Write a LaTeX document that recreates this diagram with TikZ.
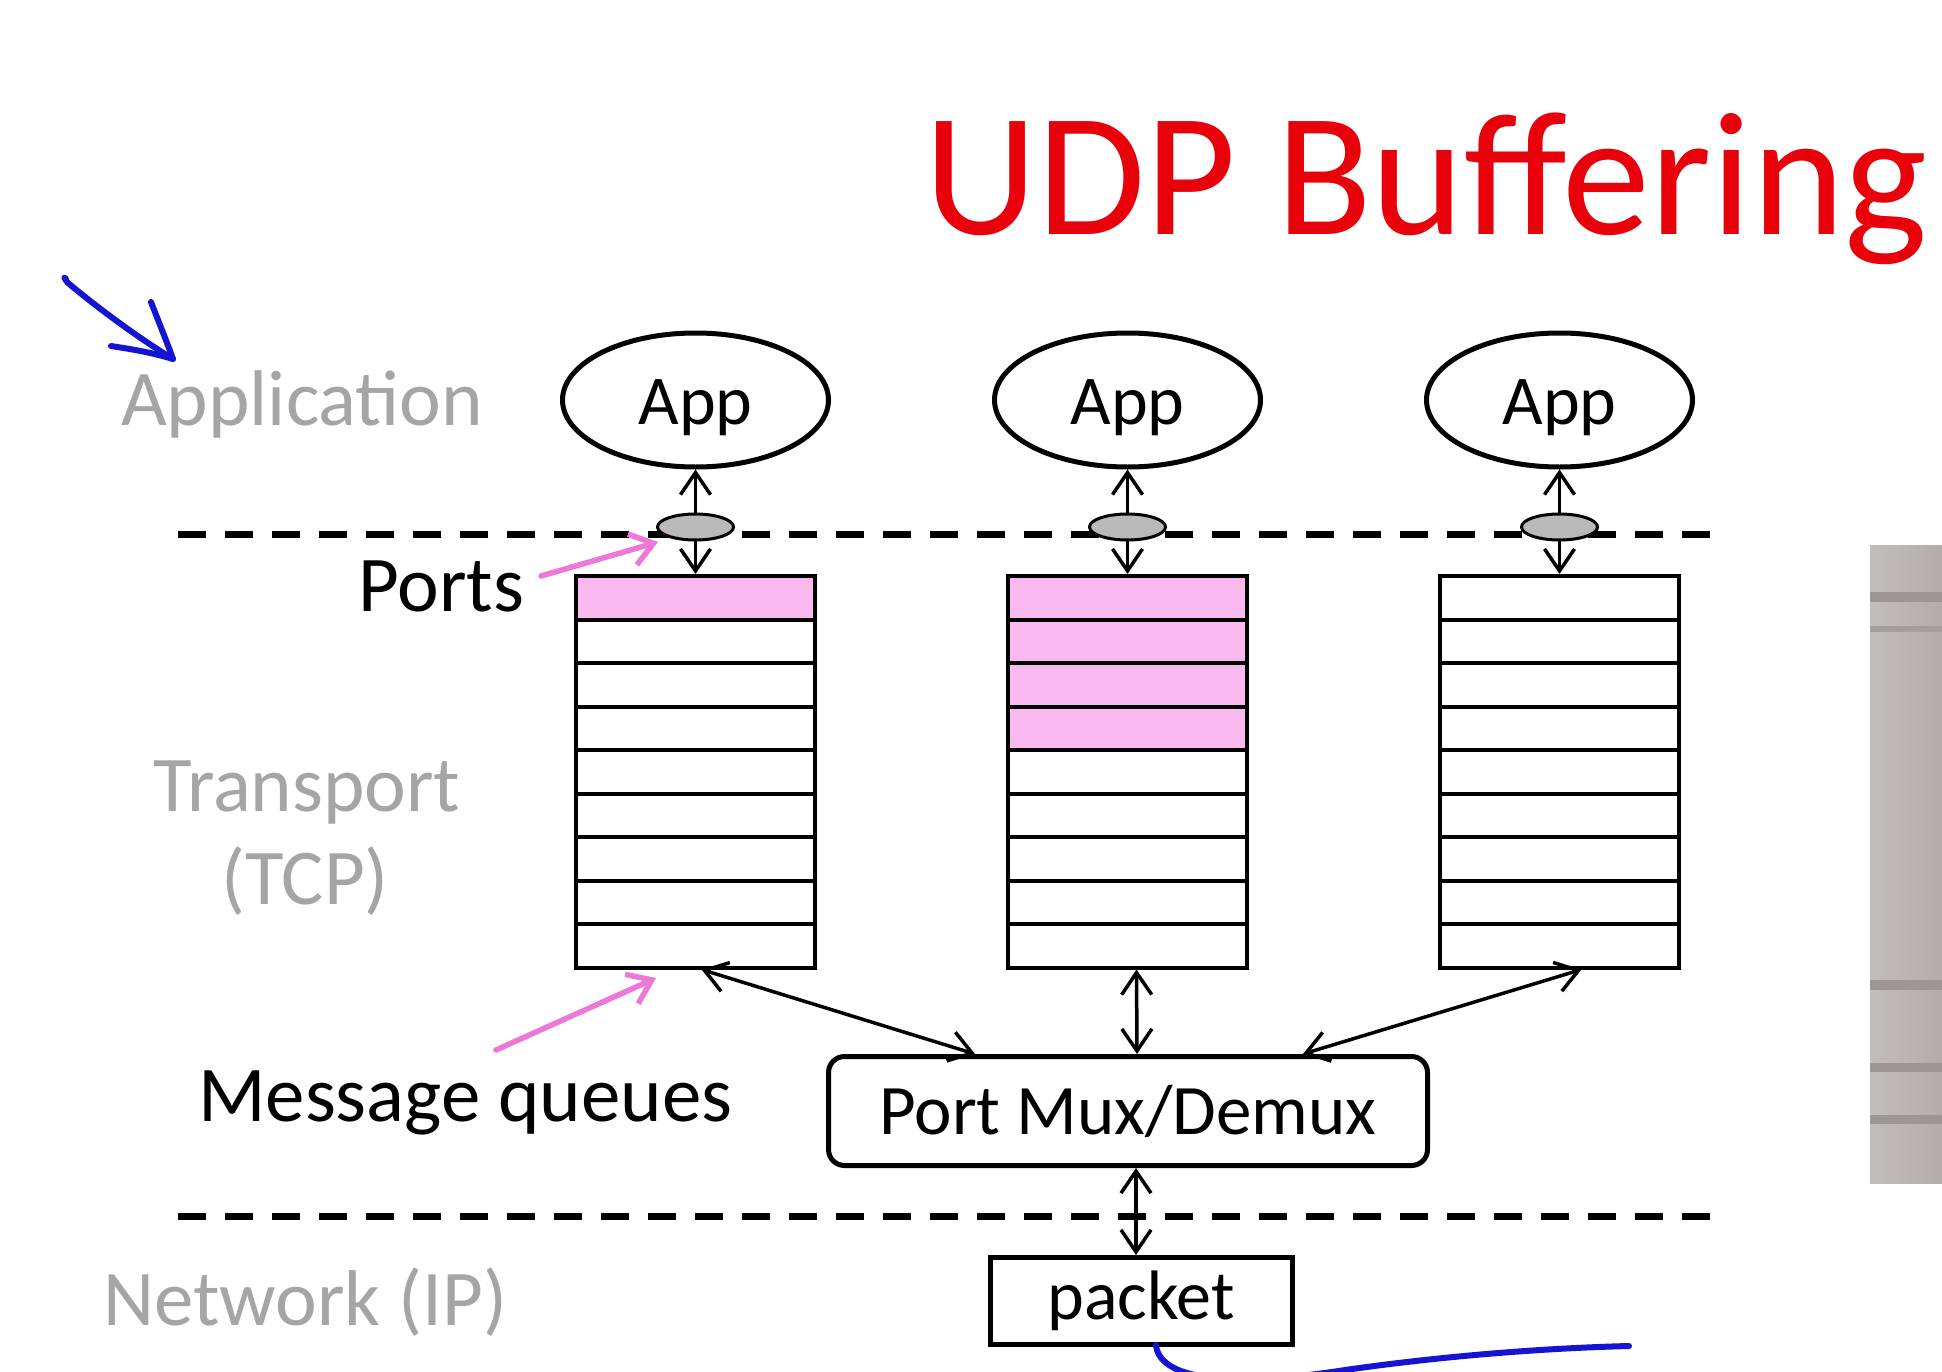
\documentclass[tikz,border=0pt]{standalone}
\usepackage{fontspec}
\setmainfont{Carlito}
\usetikzlibrary{arrows.meta,shapes.geometric,calc}
\definecolor{titlered}{RGB}{232,0,10}
\definecolor{labelgray}{RGB}{165,165,165}
\definecolor{pinkq}{RGB}{250,185,238}
\definecolor{pinkarr}{RGB}{238,120,215}
\definecolor{inkblue}{RGB}{20,20,210}
\definecolor{portgray}{RGB}{185,185,185}
\definecolor{panelgray}{RGB}{180,172,172}
\definecolor{paneldark}{RGB}{140,132,132}
\newcommand{\apptext}{\raisebox{-8pt}[\height][\depth]{App}}
\begin{document}
\begin{tikzpicture}[x=1pt,y=-1pt,
  graylbl/.style={font=\fontsize{79}{90}\selectfont, text=labelgray, inner sep=0pt},
  blklbl/.style={font=\fontsize{79}{90}\selectfont, text=black, inner sep=0pt},
  appnode/.style={ellipse, draw, line width=5pt, minimum width=266pt, minimum height=134pt, inner sep=0pt, font=\fontsize{70}{84}\selectfont, fill=white},
  portnode/.style={ellipse, draw, line width=3pt, fill=portgray, minimum width=76pt, minimum height=26pt, inner sep=0pt},
  qrow/.style={rectangle, draw, line width=4pt, minimum width=239pt, minimum height=43.5pt, inner sep=0pt},
  dashline/.style={line width=7pt, dash pattern=on 28pt off 19pt},
  dbl/.style={{Straight Barb[length=22pt,width=30pt]}-{Straight Barb[length=22pt,width=30pt]}, line width=3.5pt},
  pinkarrow/.style={-{Straight Barb[length=22pt,width=32pt]}, line width=5.5pt, draw=pinkarr, line cap=round},
  handink/.style={draw=inkblue, line width=6pt, line cap=round, line join=round}
]
\useasboundingbox (0,0) rectangle (1942,1372);
\clip (0,0) rectangle (1942,1372);
\fill[white] (0,0) rectangle (1942,1372);

% title
\node[anchor=base west, font=\fontsize{176}{200}\selectfont, text=titlered, inner sep=0pt] (title) at (924,235) {UDP Buffering};

% layer labels
\node[graylbl, anchor=base west] (application) at (121,425) {Application};
\node[graylbl, anchor=base] (transport) at (307,811) {Transport};
\node[graylbl, anchor=base] (tcp) at (305,904) {(TCP)};
\node[graylbl, anchor=base west] (network) at (103,1325) {Network (IP)};
\node[blklbl, anchor=base west] (ports) at (358,611) {Ports};
\node[blklbl, anchor=base west] (mq) at (198,1121) {Message queues};

% dashed separators
\draw[dashline] (178,534) -- (1720,534);
\draw[dashline] (178,1216) -- (1720,1216);

% apps
\node[appnode] (app1) at (695.5,400) {\apptext};
\node[appnode] (app2) at (1127.5,400) {\apptext};
\node[appnode] (app3) at (1559.5,400) {\apptext};

% queues
\foreach \q/\x/\n in {1/695.5/1, 2/1127.5/4, 3/1559.5/0} {
  \foreach \i in {0,...,8} {
    \ifnum\i<\n\relax \def\fc{pinkq}\else \def\fc{white}\fi
    \node[qrow, fill=\fc] (q\q-\i) at (\x,{597.75+43.5*\i}) {};
  }
}

% mux and packet
\node[rectangle, rounded corners=16pt, draw, line width=5pt, minimum width=599pt, minimum height=109pt, inner sep=0pt, font=\fontsize{71}{84}\selectfont] (mux) at (1128,1111) {Port Mux/Demux};
\node[rectangle, draw, line width=5pt, minimum width=302pt, minimum height=87pt, inner sep=0pt, font=\fontsize{70}{84}\selectfont] (packet) at (1141,1301) {packet};

% app <-> queue arrows through ports
\draw[dbl] (app1.south) -- (q1-0.north);
\draw[dbl] (app2.south) -- (q2-0.north);
\draw[dbl] (app3.south) -- (q3-0.north);
\node[portnode] (p1) at (695.5,527) {};
\node[portnode] (p2) at (1127.5,527) {};
\node[portnode] (p3) at (1559.5,527) {};

% queue <-> mux arrows
\draw[dbl] ([xshift=6pt]q1-8.south) -- ([xshift=-153pt]mux.north);
\draw[dbl] ([xshift=9pt]q2-8.south) -- ([xshift=9pt]mux.north);
\draw[dbl] ([xshift=22pt]q3-8.south) -- ([xshift=175pt]mux.north);
\draw[dbl] ([xshift=8pt]mux.south) -- ([xshift=-5pt]packet.north);

% pink pointer arrows
\coordinate (portsfrom) at (541,576);
\coordinate (portsto) at (658,542);
\draw[pinkarrow] (portsfrom) -- (portsto);
\coordinate (mqfrom) at (496,1050);
\coordinate (mqto) at (656,978);
\draw[pinkarrow] (mqfrom) -- (mqto);

% hand-drawn blue marks
\draw[handink] (66,279) .. controls (64,276) and (63,277) .. (68,283) .. controls (110,318) and (150,345) .. (173,359);
\draw[handink] (151,302) .. controls (160,325) and (168,345) .. (173,359) .. controls (150,352) and (130,349) .. (111,346);
\draw[handink] (1156,1345) .. controls (1160,1385) and (1250,1385) .. (1345,1370) .. controls (1450,1355) and (1550,1348) .. (1629,1346);

% grey panel at right edge (part of a photo)
\shade[left color=panelgray!80!white, right color=panelgray] (1870,545) rectangle (1942,1183);
\fill[paneldark!55!panelgray] (1870,592) rectangle (1942,602);
\fill[paneldark!35!panelgray] (1870,626) rectangle (1942,632);
\fill[paneldark!55!panelgray] (1870,980) rectangle (1942,990);
\fill[paneldark!55!panelgray] (1870,1063) rectangle (1942,1072);
\fill[paneldark!55!panelgray] (1870,1115) rectangle (1942,1124);
\end{tikzpicture}
\end{document}
